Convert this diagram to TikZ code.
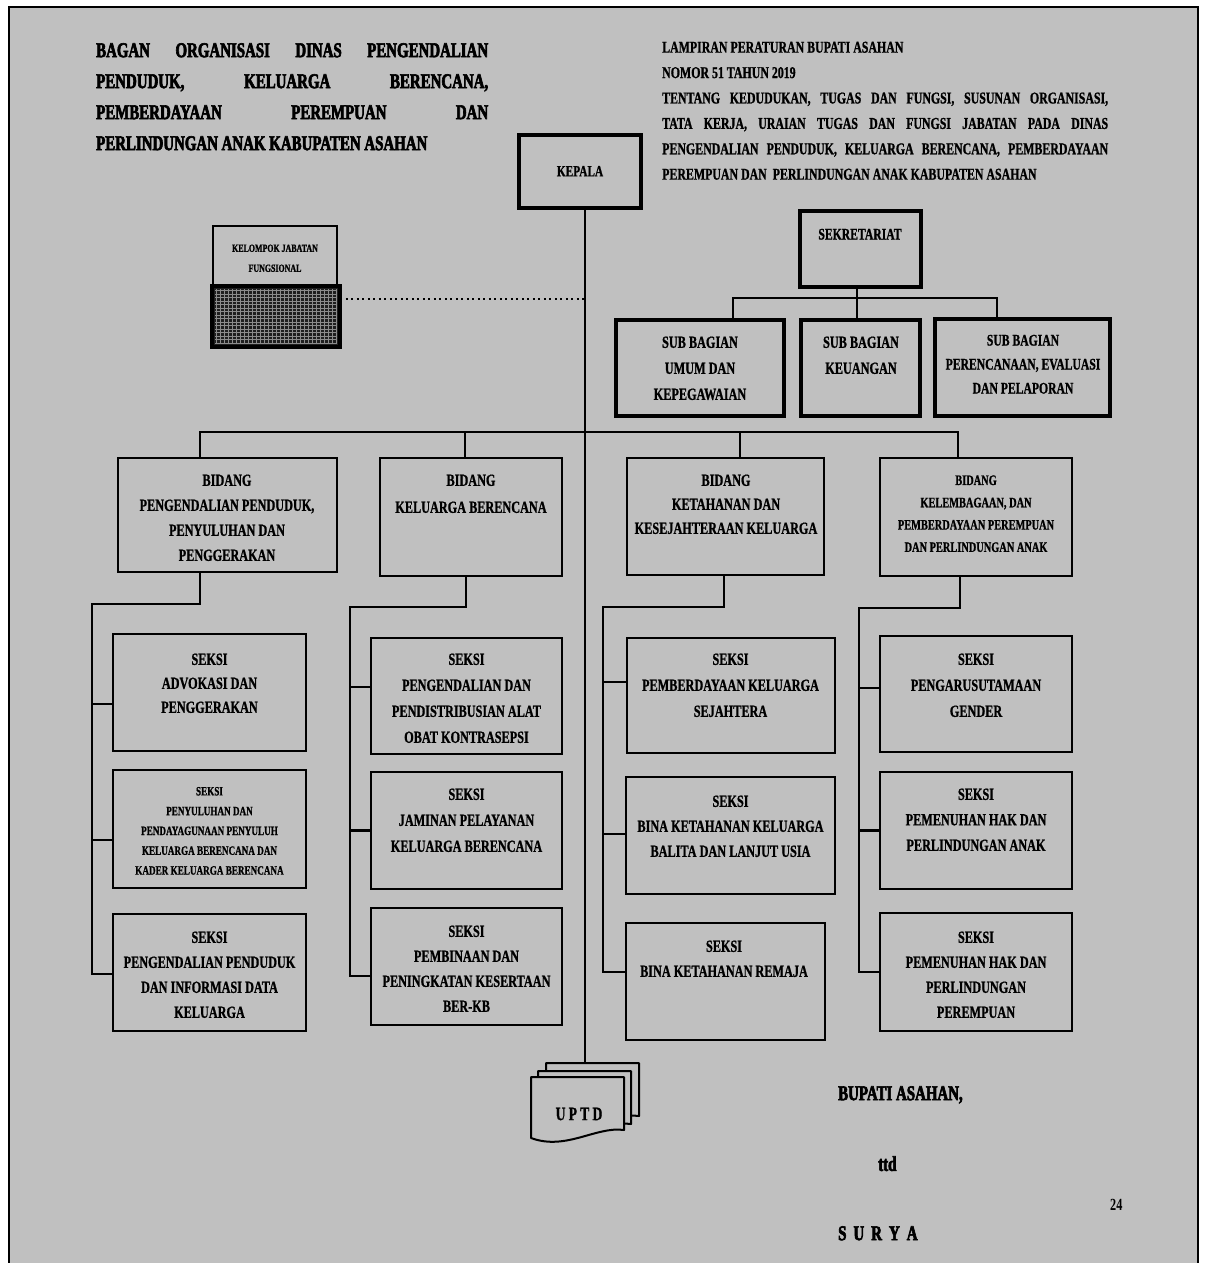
\documentclass[tikz,border=0pt]{standalone}
\usepackage{fontspec}
\setmainfont{Liberation Serif}
\newfontfamily\bfnt{Liberation Serif Bold}[FakeStretch=0.72,FakeBold=1]
\newfontfamily\tfnt{Liberation Serif Bold}[FakeStretch=0.71,FakeBold=3]
\newfontfamily\pfnt{Liberation Serif Bold}[FakeStretch=0.72]
\definecolor{bg}{RGB}{192,192,192}
\tikzset{
  box/.style={draw, line width=2.6pt, rectangle, inner sep=0pt, fill=bg},
  thickbox/.style={line width=3.2pt},
  lab/.style={inner sep=0pt, align=center, anchor=north, text=black},
  conn/.style={line width=2.3pt, line cap=rect},
  dots/.style={line width=2pt, dash pattern=on 2pt off 3.5pt},
  doc/.style={draw, line width=2pt, fill=bg, line join=round},
}
\newcommand\bx[6][]{\node[box,#1,minimum width={#5-#3},minimum height={#6-#4}] (#2) at ({(#3+#5)/2},{(#4+#6)/2}) {};}
\newcommand\tx[6]{\node[lab,font={\bfnt\fontsize{#4}{#5}\selectfont}] (#1) at ({#2},{#3-0.331*#4}) {#6};}
\newcommand\brn[3]{\coordinate (t#2) at ([yshift=#3]#2.west); \draw[conn] (t#2 -| #1) -- (t#2);}
\newcommand\docpath[2]{(531+#1,1077+#2) -- (624+#1,1077+#2) -- (624+#1,1130+#2) .. controls (596+#1,1126+#2) and (566+#1,1151+#2) .. (531+#1,1138+#2) -- cycle}
\begin{document}
\begin{tikzpicture}[x=1pt,y=-1pt]
\useasboundingbox (0,0) rectangle (1205,1263);
\fill[white] (0,0) rectangle (1205,1263);
\fill[bg] (9,7) rectangle (1198,1263);
\draw[line width=2.5pt] (9,1263) -- (9,7) -- (1198,7) -- (1198,1263);

% title
\node[inner sep=0pt, anchor=north west, align=left, font={\tfnt\fontsize{21}{31}\selectfont}] (title) at (96,{50-0.331*21})
 {\makebox[392pt][s]{BAGAN ORGANISASI DINAS PENGENDALIAN}\\
  \makebox[392pt][s]{PENDUDUK, KELUARGA BERENCANA,}\\
  \makebox[392pt][s]{PEMBERDAYAAN PEREMPUAN DAN}\\
  PERLINDUNGAN ANAK KABUPATEN ASAHAN};

% header right
\node[inner sep=0pt, anchor=north west, align=left, font={\bfnt\fontsize{16.5}{25.4}\selectfont}] (header) at (662,{47-0.331*16.5})
 {LAMPIRAN PERATURAN BUPATI ASAHAN\\
  NOMOR 51 TAHUN 2019\\
  \makebox[446pt][s]{TENTANG KEDUDUKAN, TUGAS DAN FUNGSI, SUSUNAN ORGANISASI,}\\
  \makebox[446pt][s]{TATA KERJA, URAIAN TUGAS DAN FUNGSI JABATAN PADA DINAS}\\
  \makebox[446pt][s]{PENGENDALIAN PENDUDUK, KELUARGA BERENCANA, PEMBERDAYAAN}\\
  PEREMPUAN DAN\ \ PERLINDUNGAN ANAK KABUPATEN ASAHAN};

% coordinates
\coordinate (sp) at (585,1063);
\coordinate (dl) at (585,299);
\coordinate (sk) at (857,298);
\coordinate (skL) at (733,298);
\coordinate (skR) at (997,298);
\coordinate (busL) at (200,432);
\coordinate (bus2) at (465,432);
\coordinate (bus3) at (740,432);
\coordinate (busR) at (958,432);
\coordinate (e1) at (200,604);  \coordinate (v1) at (92,974);
\coordinate (e2) at (466,607);  \coordinate (v2) at (350,976);
\coordinate (e3) at (724,607);  \coordinate (v3) at (603,972);
\coordinate (e4) at (960,608);  \coordinate (v4) at (859,972);

% boxes
\bx[thickbox]{kepala}{519}{135}{641}{208}
\bx[thickbox]{sekr}{800}{211}{921}{287}
\bx[thickbox]{subumum}{616}{320}{784}{416}
\bx[thickbox]{keuangan}{801}{320}{920}{416}
\bx[thickbox]{perenc}{935}{319}{1110}{416}

% connectors
\draw[conn] (kepala.south -| sp) -- (sp);
\draw[conn] (busL) -- (busR);
\draw[conn] (sekr.south -| sk) -- (sk);
\draw[conn] (skL) -- (skR);

\bx{kelompok}{213}{226}{337}{286}
\bx[fill=black!88]{hatch}{213}{287}{339}{346}
\foreach \yy in {290.5,294,...,344} \draw[black!45, line width=0.7pt] (215,\yy) -- (337,\yy);
\foreach \xx in {216.5,220.5,...,337} \draw[black!45, line width=0.6pt] (\xx,289) -- (\xx,344);
\draw[line width=2.6pt] (hatch.north west) rectangle (hatch.south east);
\draw[dots] (hatch.east |- dl) -- (dl);

\bx{b1}{118}{458}{337}{572}
\bx{b2}{380}{458}{562}{576}
\bx{b3}{627}{458}{824}{575}
\bx{b4}{880}{458}{1072}{576}

\bx{s11}{113}{634}{306}{751}
\bx{s12}{113}{770}{306}{888}
\bx{s13}{113}{914}{306}{1031}
\bx{s21}{371}{638}{562}{754}
\bx{s22}{371}{772}{562}{889}
\bx{s23}{371}{908}{562}{1025}
\bx{s31}{627}{638}{835}{753}
\bx{s32}{626}{777}{835}{894}
\bx{s33}{626}{923}{825}{1040}
\bx{s41}{880}{636}{1072}{752}
\bx{s42}{880}{772}{1072}{889}
\bx{s43}{880}{913}{1072}{1031}

% secretariat drops
\draw[conn] (skL) -- (skL |- subumum.north);
\draw[conn] (sk) -- (sk |- keuangan.north);
\draw[conn] (skR) -- (skR |- perenc.north);

% bus drops
\draw[conn] (busL) -- (busL |- b1.north);
\draw[conn] (bus2) -- (bus2 |- b2.north);
\draw[conn] (bus3) -- (bus3 |- b3.north);
\draw[conn] (busR) -- (busR |- b4.north);

% column spines
\draw[conn] (e1 |- b1.south) -- (e1) -- (e1 -| v1) -- (v1);
\draw[conn] (e2 |- b2.south) -- (e2) -- (e2 -| v2) -- (v2);
\draw[conn] (e3 |- b3.south) -- (e3) -- (e3 -| v3) -- (v3);
\draw[conn] (e4 |- b4.south) -- (e4) -- (e4 -| v4) -- (v4);

% branches
\brn{v1}{s11}{-11.5pt} \brn{v1}{s12}{-11pt} \brn{v1}{s13}{-1.5pt}
\brn{v2}{s21}{9pt} \brn{v2}{s22}{0pt} \brn{v2}{s23}{-9.5pt}
\brn{v3}{s31}{13.5pt} \brn{v3}{s32}{1.5pt} \brn{v3}{s33}{9.5pt}
\brn{v4}{s41}{6pt} \brn{v4}{s42}{0pt} \brn{v4}{s43}{0pt}

% UPTD documents
\draw[doc] \docpath{15}{-14};
\draw[doc] \docpath{7}{-6};
\draw[doc] \docpath{0}{0};
\node[inner sep=0pt, font={\bfnt\fontsize{19}{19}\selectfont}] (uptd) at (579,1114) {U\,P\,T\,D};

% labels
\tx{kepalat}{580}{171}{15.7}{25}{KEPALA}
\tx{sekrt}{860}{234}{16.2}{25}{SEKRETARIAT}
\tx{subumumt}{700}{342}{17}{26}{SUB BAGIAN\\UMUM DAN\\KEPEGAWAIAN}
\tx{keuangant}{861}{342}{17}{26}{SUB BAGIAN\\KEUANGAN}
\tx{perenct}{1023}{340}{16.2}{24}{SUB BAGIAN\\PERENCANAAN, EVALUASI\\DAN PELAPORAN}
\tx{kelompokt}{275}{248}{11}{20}{KELOMPOK JABATAN\\FUNGSIONAL}

\tx{b1t}{227}{480}{17}{25}{BIDANG\\PENGENDALIAN PENDUDUK,\\PENYULUHAN DAN\\PENGGERAKAN}
\tx{b2t}{471}{480}{17}{27}{BIDANG\\KELUARGA BERENCANA}
\tx{b3t}{726}{480}{17}{24}{BIDANG\\KETAHANAN DAN\\KESEJAHTERAAN KELUARGA}
\tx{b4t}{976}{480}{14.4}{22.3}{BIDANG\\KELEMBAGAAN, DAN\\PEMBERDAYAAN PEREMPUAN\\DAN PERLINDUNGAN ANAK}

\tx{s11t}{209.5}{659}{17}{24}{SEKSI\\ADVOKASI DAN\\PENGGERAKAN}
\tx{s12t}{209.5}{791}{12.7}{19.8}{SEKSI\\PENYULUHAN DAN\\PENDAYAGUNAAN PENYULUH\\KELUARGA BERENCANA DAN\\KADER KELUARGA BERENCANA}
\tx{s13t}{209.5}{937}{17}{25}{SEKSI\\PENGENDALIAN PENDUDUK\\DAN INFORMASI DATA\\KELUARGA}
\tx{s21t}{466.5}{659}{17}{26}{SEKSI\\PENGENDALIAN DAN\\PENDISTRIBUSIAN ALAT\\OBAT KONTRASEPSI}
\tx{s22t}{466.5}{794}{17}{26}{SEKSI\\JAMINAN PELAYANAN\\KELUARGA BERENCANA}
\tx{s23t}{466.5}{931}{17}{25}{SEKSI\\PEMBINAAN DAN\\PENINGKATAN KESERTAAN\\BER-KB}
\tx{s31t}{730.5}{659}{17}{26}{SEKSI\\PEMBERDAYAAN KELUARGA\\SEJAHTERA}
\tx{s32t}{730.5}{801}{17}{25}{SEKSI\\BINA KETAHANAN KELUARGA\\BALITA DAN LANJUT USIA}
\tx{s33t}{724}{946}{17}{25}{SEKSI\\BINA KETAHANAN REMAJA}
\tx{s41t}{976}{659}{17}{26}{SEKSI\\PENGARUSUTAMAAN\\GENDER}
\tx{s42t}{976}{794}{17}{25.5}{SEKSI\\PEMENUHAN HAK DAN\\PERLINDUNGAN ANAK}
\tx{s43t}{976}{937}{17}{25}{SEKSI\\PEMENUHAN HAK DAN\\PERLINDUNGAN\\PEREMPUAN}

% signature block
\node[inner sep=0pt, anchor=north west, font={\tfnt\fontsize{21}{21}\selectfont}] (bupati) at (838,{1093-0.331*21}) {BUPATI ASAHAN,};
\node[inner sep=0pt, anchor=north west, font={\tfnt\fontsize{21}{21}\selectfont}] (ttd) at (878,{1165-0.331*21-2}) {ttd};
\node[inner sep=0pt, anchor=north west, font={\pfnt\fontsize{17}{17}\selectfont}] (page) at (1110,{1205-0.331*17}) {24};
\node[inner sep=0pt, anchor=north west, font={\tfnt\fontsize{21}{21}\selectfont}] (surya) at (838,{1233-0.331*21}) {S\,\,U\,\,R\,\,Y\,\,A};
\end{tikzpicture}
\end{document}
